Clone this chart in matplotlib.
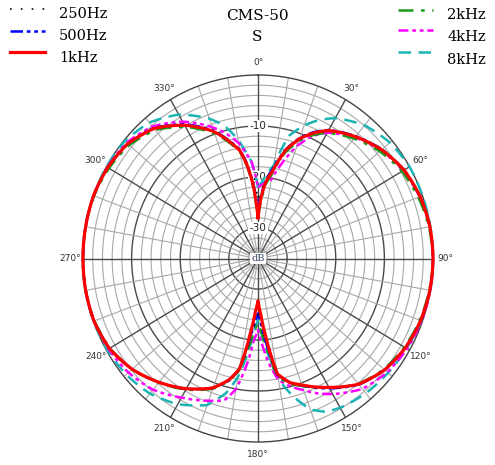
import numpy as np
import matplotlib
matplotlib.use("Agg")
import matplotlib.pyplot as plt
from matplotlib.lines import Line2D

# ---------------- data (dB vs. angle in degrees) ----------------
angles_deg = [0, 3, 6, 10, 15, 20, 25, 30, 40, 50, 60, 70, 80, 90,
              100, 110, 120, 130, 140, 150, 155, 160, 165, 170, 174, 177, 180,
              183, 186, 190, 194, 200, 210, 220, 230, 240, 250, 260, 270,
              280, 290, 300, 310, 320, 330, 340, 345, 350, 353, 356, 358, 360]

db_250 = [-24, -22.5, -20.5, -18, -14, -11, -8.8, -7.1, -4.9, -2.9, -1.4, -0.6, -0.1, 0,
          -0.1, -0.4, -1.0, -2.1, -3.9, -6.9, -8.3, -9.7, -11, -13, -19, -23, -25,
          -23.5, -20.5, -14.2, -11.5, -9.1, -6.6, -4.4, -2.3, -0.8, -0.1, 0, 0,
          0, 0, -0.4, -1.1, -2.8, -5.9, -9.6, -12, -14.5, -17.3, -20.5, -22.5, -24]

db_500 = [-26, -23.5, -20.5, -18, -13.8, -10.8, -8.6, -6.9, -4.7, -2.7, -1.3, -0.5, -0.1, 0,
          -0.1, -0.4, -1.0, -2.0, -3.7, -6.6, -8.0, -9.5, -10.8, -12.8, -19, -23, -25.2,
          -23.5, -20.5, -14, -11.3, -9, -6.5, -4.3, -2.2, -0.7, -0.1, 0, 0,
          0, 0, -0.3, -1.0, -2.6, -5.6, -9.3, -11.8, -14.3, -17.2, -21, -24, -26]

db_1k = [-28, -24, -21, -18.5, -14, -11, -8.8, -7, -4.8, -2.8, -1.3, -0.5, -0.1, 0,
         -0.1, -0.4, -1.0, -2.0, -3.8, -6.8, -8.2, -9.6, -10.8, -13, -20.5, -25, -27.7,
         -25.5, -21.5, -14, -11.5, -9, -6.5, -4.3, -2.2, -0.7, -0.1, 0, 0,
         0, 0, -0.3, -1.0, -2.7, -5.8, -9.5, -12, -14.5, -17.5, -21.5, -25, -28]

db_2k = [-28, -25, -21.5, -19, -14.5, -11.5, -9.3, -7.5, -5.3, -3.3, -1.8, -0.9, -0.3, 0,
         -0.2, -0.6, -1.2, -2.2, -3.9, -6.8, -8.0, -9.4, -10.5, -12.3, -18, -21.5, -23.3,
         -22, -19, -13.8, -11.3, -8.8, -6.3, -4.2, -2.2, -0.8, -0.2, 0, 0,
         0, -0.1, -0.6, -1.4, -3.1, -6.2, -9.9, -12.3, -14.8, -17.8, -22, -25.5, -28]

db_4k = [-22, -21.5, -21, -20.3, -16.5, -12.5, -9.5, -7.5, -5.0, -3.0, -1.5, -0.6, -0.1, 0,
         0, -0.2, -0.6, -1.3, -2.6, -5.3, -6.8, -8.5, -10, -11.8, -15.5, -19, -22,
         -20, -15.5, -10, -7.3, -6.3, -4.5, -2.4, -1.2, -0.5, -0.1, 0, 0,
         0, 0, -0.2, -0.7, -2.2, -5.0, -8.6, -10.6, -13, -15, -17, -19.5, -22]

db_8k = [-22, -21, -19.5, -17.5, -11, -8.2, -6, -4.2, -1.9, -0.6, 0, 0, 0, 0,
         0, -0.3, -0.7, -1.1, -1.5, -2.2, -2.8, -4.5, -8, -12, -17.5, -21, -24,
         -22, -18, -12.5, -8.8, -5.4, -3.0, -1.4, -0.6, -0.2, 0, 0, 0,
         0, 0, 0, -0.2, -1.2, -3.4, -6.8, -9.0, -12.3, -14.8, -17, -19.5, -22]

series_labels = ["250Hz", "500Hz", "1kHz", "2kHz", "4kHz", "8kHz"]
title_lines = ["CMS-50", "S"]
angle_tick_labels = [f"{a}°" for a in range(0, 360, 30)]
radial_tick_values = [-10, -20, -30]

# ---------------- styles ----------------
styles = {
    "250Hz": dict(color="black", lw=1.2, ls=(0, (1, 5.5))),
    "500Hz": dict(color="#0000ff", lw=1.8, ls=(0, (5, 1.5, 1.5, 1.5, 1.5, 1.5))),
    "1kHz": dict(color="#ff0000", lw=2.3, ls="-"),
    "2kHz": dict(color="#1a9a1a", lw=1.8, ls=(0, (6, 3, 1.5, 3))),
    "4kHz": dict(color="#ff00ff", lw=1.8, ls=(0, (4, 1.5, 1.5, 1.5, 1.5, 1.5))),
    "8kHz": dict(color="#1ab4b4", lw=1.8, ls=(0, (5, 3))),
}
data = {"250Hz": db_250, "500Hz": db_500, "1kHz": db_1k,
        "2kHz": db_2k, "4kHz": db_4k, "8kHz": db_8k}

RMIN, RMAX = -36, 0

fig = plt.figure(figsize=(4.95, 4.65), dpi=100)
ax = fig.add_axes([83 / 495, 23 / 465, 350 / 495, 367 / 465], projection="polar")
ax.set_aspect("auto")
ax.set_theta_zero_location("N")
ax.set_theta_direction(-1)
ax.set_ylim(RMIN, RMAX)
ax.grid(False)
ax.set_yticks([])

# grid circles
tt = np.linspace(0, 2 * np.pi, 721)
for r in range(-34, 0, 2):
    major = (r % 10 == 0)
    ax.plot(tt, np.full_like(tt, r), color="#4a4a4a" if major else "#a8a8a8",
            lw=1.0 if major else 0.8, zorder=1)
# grid spokes
for a in range(0, 360, 10):
    major = (a % 30 == 0)
    ax.plot([np.deg2rad(a)] * 2, [RMIN, RMAX], color="#4a4a4a" if major else "#a8a8a8",
            lw=1.0 if major else 0.8, zorder=1)
ax.spines["polar"].set_color("#444444")
ax.spines["polar"].set_linewidth(1.0)

# angle labels
ax.set_xticks(np.deg2rad(np.arange(0, 360, 30)))
ax.set_xticklabels(angle_tick_labels, fontsize=6.5, color="#333333")
ax.tick_params(axis="x", pad=-1.5)

# radial labels
for v in radial_tick_values:
    ax.text(0, v, f"-{abs(v)}", ha="center", va="center", fontsize=7.5, color="#222222",
            bbox=dict(facecolor="white", edgecolor="none", pad=1.0), zorder=3)
ax.text(0, RMIN, "dB", ha="center", va="center", fontsize=7, color="#334466",
        family="DejaVu Serif",
        bbox=dict(facecolor="white", edgecolor="none", pad=1.0), zorder=3)

# curves (rendered as smooth arcs between the measured points)
th = np.deg2rad(angles_deg)
order = ["8kHz", "4kHz", "2kHz", "500Hz", "250Hz", "1kHz"]
for name in order:
    st = styles[name]
    ln, = ax.plot(th, data[name], color=st["color"], lw=st["lw"], ls=st["ls"],
                  zorder=4, clip_on=False)
    ln.get_path()._interpolation_steps = 40

# title
fig.text(257 / 495, 1 - 16 / 465, title_lines[0], ha="center", va="center",
         fontsize=11, family="DejaVu Serif")
fig.text(257 / 495, 1 - 37 / 465, title_lines[1], ha="center", va="center",
         fontsize=11, family="DejaVu Serif")

# legend (manual)
left_pos = [(10, 45, 59, 9, 14), (10, 45, 59, 31, 36), (10, 45, 59, 52, 58)]
right_pos = [(398, 433, 447, 10, 15), (398, 433, 447, 30, 37), (398, 433, 447, 52, 60)]
for name, (x0, x1, xt, yl, yt) in zip(series_labels, left_pos + right_pos):
    st = styles[name]
    fig.add_artist(Line2D([x0 / 495, x1 / 495], [1 - yl / 465, 1 - yl / 465],
                          color=st["color"], lw=st["lw"], ls=st["ls"]))
    fig.text(xt / 495, 1 - yt / 465, name, ha="left", va="center",
             fontsize=10.5, family="DejaVu Serif")

fig.savefig("out.png", dpi=100)
